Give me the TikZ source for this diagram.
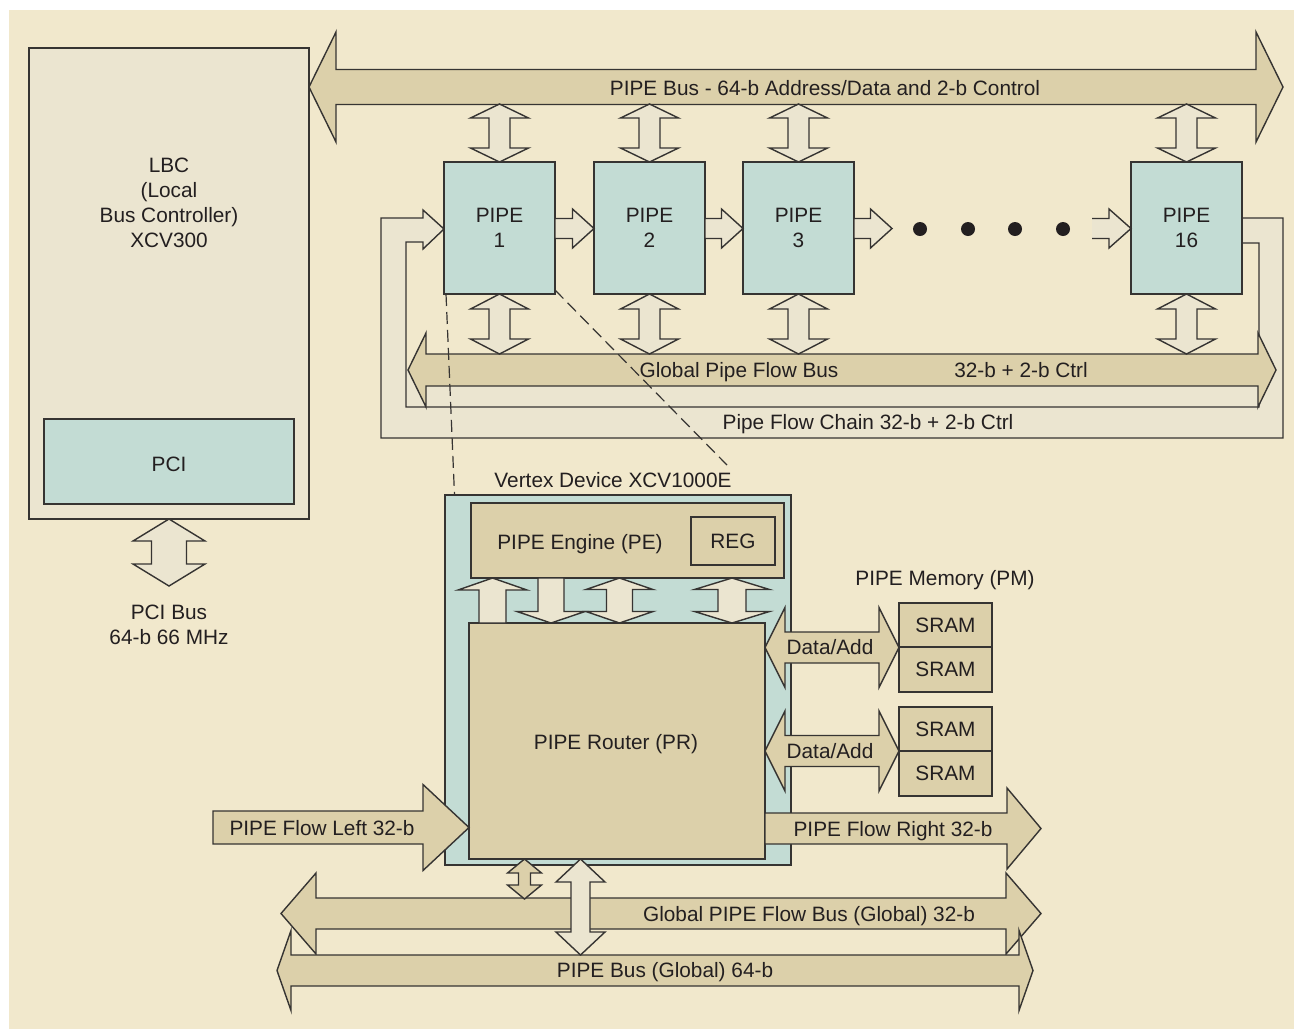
\documentclass[tikz,border=0pt]{standalone}
\usepackage{fontspec}
\setmainfont{Liberation Sans}
\usetikzlibrary{positioning,fit}
\definecolor{PaperBeige}{HTML}{F1E8CC}
\definecolor{BusTan}{HTML}{DCD0AA}
\definecolor{LinkCream}{HTML}{EBE5D0}
\definecolor{ChipTeal}{HTML}{C3DCD4}
\definecolor{EdgeGray}{HTML}{363432}
\definecolor{InkDark}{HTML}{231F20}

% horizontal double arrow: style, left tip, right tip, y, shaft half, head half, head length
\newcommand{\hdbl}[7]{%
  \draw[#1] (#2,#4) -- ({#2+#7},{#4-#6}) -- ({#2+#7},{#4-#5}) -- ({#3-#7},{#4-#5})
    -- ({#3-#7},{#4-#6}) -- (#3,#4) -- ({#3-#7},{#4+#6}) -- ({#3-#7},{#4+#5})
    -- ({#2+#7},{#4+#5}) -- ({#2+#7},{#4+#6}) -- cycle;}
% vertical double arrow: style, x, top tip, bottom tip, shaft half, head half, head length
\newcommand{\vdbl}[7]{%
  \draw[#1] (#2,#3) -- ({#2+#6},{#3+#7}) -- ({#2+#5},{#3+#7}) -- ({#2+#5},{#4-#7})
    -- ({#2+#6},{#4-#7}) -- (#2,#4) -- ({#2-#6},{#4-#7}) -- ({#2-#5},{#4-#7})
    -- ({#2-#5},{#3+#7}) -- ({#2-#6},{#3+#7}) -- cycle;}
% single arrow to the right: style, x start, x tip, y, shaft half, head half, head length
\newcommand{\hsgl}[7]{%
  \draw[#1] (#2,{#4-#5}) -- ({#3-#7},{#4-#5}) -- ({#3-#7},{#4-#6}) -- (#3,#4)
    -- ({#3-#7},{#4+#6}) -- ({#3-#7},{#4+#5}) -- (#2,{#4+#5}) -- cycle;}
% single vertical arrow: style, x, y start, y tip, shaft half, head half, head length
\newcommand{\vsgl}[7]{%
  \draw[#1] ({#2-#5},#3) -- ({#2-#5},{#4+sign(#3-#4)*#7}) -- ({#2-#6},{#4+sign(#3-#4)*#7})
    -- (#2,#4) -- ({#2+#6},{#4+sign(#3-#4)*#7}) -- ({#2+#5},{#4+sign(#3-#4)*#7})
    -- ({#2+#5},#3) -- cycle;}

\tikzset{
  box/.style={draw=EdgeGray, line width=0.7pt, inner sep=0pt, outer sep=0pt},
  tealbox/.style={box, fill=ChipTeal},
  tanbox/.style={box, fill=BusTan},
  creambox/.style={box, fill=LinkCream},
  busarrow/.style={draw=EdgeGray, line width=0.7pt, fill=BusTan},
  linkarrow/.style={draw=EdgeGray, line width=0.7pt, fill=LinkCream},
  lbl/.style={inner sep=0pt, align=center},
  capline/.style={lbl, text height=7.4pt, text depth=0pt},
  zoomline/.style={EdgeGray, line width=0.6pt, dash pattern=on 6pt off 3pt}
}

\begin{document}
\begin{tikzpicture}[x=0.5pt, y=-0.5pt, line join=miter,
  every node/.style={font=\fontsize{10.4}{12.5}\selectfont, text=InkDark}]
  \useasboundingbox (0,0) rectangle (1294,1029);
  \fill[white] (0,0) rectangle (1294,1029);
  \fill[PaperBeige] (9,10) rectangle (1294,1029);

  % local bus controller
  \node[creambox, fit={(29,48) (309,519)}] (lbc) {};
  \node[lbl] (lbcname) at (169,203) {LBC\\(Local\\Bus Controller)\\XCV300};
  \node[tealbox, fit={(44,419) (294,504)}] (pci) {};
  \node[capline] (pcilbl) at (169,464) {PCI};
  \vdbl{linkarrow}{169}{519}{586}{17.5}{36}{22}
  \node[lbl] (pcibuslbl) at (169,625) {PCI Bus\\64-b 66 MHz};

  % pipe flow chain and global pipe flow bus
  \fill[LinkCream] (406,370) rectangle (1259,407);
  \draw[linkarrow] (1242,218) -- (1283,218) -- (1283,438) -- (381,438) -- (381,218)
    -- (423,218) -- (423,210) -- (444,229) -- (423,249) -- (423,242) -- (406,242)
    -- (406,407) -- (1259,407) -- (1259,243) -- (1242,243);
  \hdbl{busarrow}{408}{1276}{370}{16}{37}{18}

  % top pipe bus
  \hdbl{busarrow}{309}{1283}{87}{17.5}{55}{27}

  % pipes
  \node[tealbox, fit={(444,162) (555,294)}] (p1) {};
  \node[tealbox, fit={(594,162) (705,294)}] (p2) {};
  \node[tealbox, fit={(743,162) (854,294)}] (p3) {};
  \node[tealbox, fit={(1131,162) (1242,294)}] (p16) {};
  \node[lbl] (p1lbl) at (p1) {PIPE\\1};
  \node[lbl] (p2lbl) at (p2) {PIPE\\2};
  \node[lbl] (p3lbl) at (p3) {PIPE\\3};
  \node[lbl] (p16lbl) at (p16) {PIPE\\16};
  \foreach \cx in {499.5,649.5,798.5,1186.5} {
    \vdbl{linkarrow}{\cx}{104}{162}{10.5}{29}{14}
    \vdbl{linkarrow}{\cx}{294}{354}{10.5}{29}{15}
  }
  \hsgl{linkarrow}{555}{594}{228.5}{10}{19.5}{21.5}
  \hsgl{linkarrow}{705}{743}{228.5}{10}{19.5}{21.5}
  \hsgl{linkarrow}{854}{892}{228.5}{10}{19.5}{21.5}
  \draw[linkarrow] (1092,218.5) -- (1109,218.5) -- (1109,209) -- (1131,228.5)
    -- (1109,248) -- (1109,238.5) -- (1092,238.5);
  \foreach \dx in {920,968,1015,1063}
    \fill[InkDark] (\dx,229) circle[radius=7];

  \node[capline] (topbuslbl) at (825,88) {PIPE Bus - 64-b Address/Data and 2-b Control};
  \node[capline] (gpfblbl) at (739,370) {Global Pipe Flow Bus};
  \node[capline] (gpfbwidth) at (1021,370) {32-b + 2-b Ctrl};
  \node[capline] (chainlbl) at (868,422) {Pipe Flow Chain 32-b + 2-b Ctrl};

  % zoom into pipe 1
  \coordinate (zoomL) at (454.5,495);
  \coordinate (zoomR) at (727,465);
  \draw[zoomline] ([xshift=1pt]p1.south west) -- (zoomL);
  \draw[zoomline] ([yshift=2pt]p1.south east) -- (zoomR);

  % vertex device
  \node[capline] (vtxlbl) at (613,480) {Vertex Device XCV1000E};
  \node[tealbox, fit={(445,495) (791,865)}] (vtx) {};
  \node[tanbox, fit={(471,503) (784,578)}] (pe) {};
  \node[capline] (pelbl) at (580,542) {PIPE Engine (PE)};
  \node[tanbox, fit={(691,517) (775,565)}] (reg) {};
  \node[capline] (reglbl) at (reg) {REG};
  \node[tanbox, fit={(469,623) (765,859)}] (pr) {};
  \node[capline] (prlbl) at (616,742) {PIPE Router (PR)};
  \vsgl{linkarrow}{492.5}{623}{578}{13.5}{34.5}{12}
  \vsgl{linkarrow}{551}{578}{623}{13}{34}{11.5}
  \vdbl{linkarrow}{619.5}{578}{623}{13}{33.5}{11.5}
  \vdbl{linkarrow}{732}{578}{623}{14}{37.5}{11.5}

  % pipe memory
  \node[capline] (pmlbl) at (945,578) {PIPE Memory (PM)};
  \hdbl{busarrow}{765}{899}{647.5}{15.5}{40}{20}
  \hdbl{busarrow}{765}{899}{751}{15.5}{40}{20}
  \node[capline] (da1) at (830,647) {Data/Add};
  \node[capline] (da2) at (830,751) {Data/Add};
  \node[tanbox, fit={(899,603) (992,647)}] (sram1) {};
  \node[tanbox, fit={(899,647) (992,692)}] (sram2) {};
  \node[tanbox, fit={(899,707) (992,751)}] (sram3) {};
  \node[tanbox, fit={(899,751) (992,796)}] (sram4) {};
  \foreach \m in {1,...,4}
    \node[capline] (sram\m lbl) at (sram\m) {SRAM};

  % flows and global buses
  \hsgl{busarrow}{213}{469}{827.5}{16.5}{43}{46}
  \hsgl{busarrow}{765}{1041}{828.5}{15.5}{40.5}{34}
  \hdbl{busarrow}{281}{1041}{913.5}{15.5}{40.5}{35}
  \hdbl{busarrow}{277}{1033}{970.5}{15.5}{40}{14}
  \vdbl{busarrow}{524.5}{859}{899}{6}{17}{14}
  \vdbl{linkarrow}{580.5}{859}{955}{9.5}{24.5}{23}
  \node[capline] (leftlbl) at (322,828) {PIPE Flow Left 32-b};
  \node[capline] (rightlbl) at (893,829) {PIPE Flow Right 32-b};
  \node[capline] (gflbl) at (809,914) {Global PIPE Flow Bus (Global) 32-b};
  \node[capline] (gbuslbl) at (665,970) {PIPE Bus (Global) 64-b};
\end{tikzpicture}
\end{document}
